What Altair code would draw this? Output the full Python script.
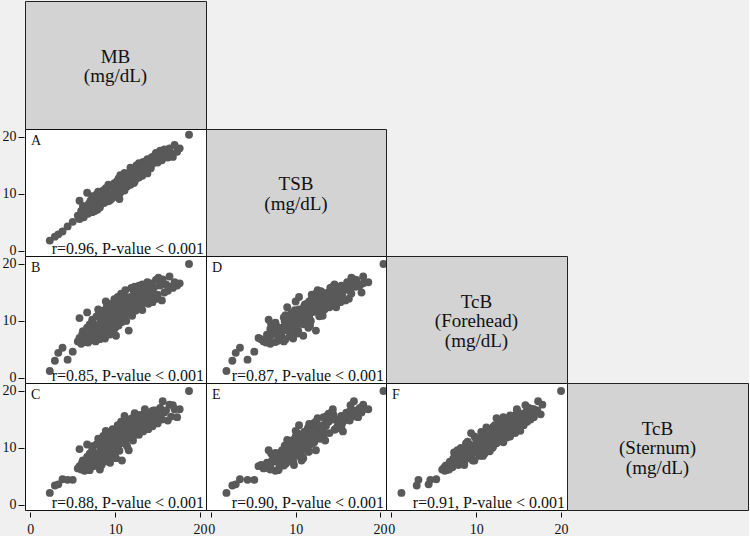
import altair as alt
import pandas as pd

# Subject-level values (mg/dL), estimated from the scatter panels
MB = [5.6, 5.8, 6.0, 6.1, 6.3, 6.4, 6.2, 6.5,
      6.7, 6.8, 6.9, 7.0, 7.1, 7.2, 7.3, 7.4, 7.5, 7.0, 7.3,
      7.6, 7.7, 7.8, 7.9, 8.0, 8.1, 8.2, 8.3, 8.4, 8.5, 7.8, 8.2, 8.0, 8.4,
      8.6, 8.7, 8.8, 8.9, 9.0, 9.1, 9.2, 9.3, 9.4, 9.5, 8.6, 8.9, 9.2, 9.4, 9.0,
      9.6, 9.7, 9.8, 9.9, 10.0, 10.1, 10.2, 10.3, 10.4, 10.5, 9.6, 9.9, 10.2, 10.4, 10.0, 10.3,
      10.6, 10.7, 10.8, 10.9, 11.0, 11.1, 11.2, 11.3, 11.4, 11.5, 10.6, 10.9, 11.1, 11.3, 11.6,
      11.7, 11.8, 11.9, 12.0, 12.1, 12.2, 12.3, 12.4, 12.5, 11.8, 12.0, 12.3, 12.5,
      12.6, 12.7, 12.8, 12.9, 13.0, 13.1, 13.2, 13.3, 13.4, 12.8, 13.2,
      13.6, 13.7, 13.8, 13.9, 14.0, 14.2, 14.3, 14.4, 13.8,
      14.6, 14.8, 15.0, 15.1, 15.3, 15.5, 15.6, 15.8, 14.9, 15.4,
      16.0, 16.2, 16.4, 16.6, 16.8, 17.0, 17.3, 17.6,
      2.3, 2.9, 3.3, 3.8, 4.4, 5.0, 5.8, 6.7, 18.7,
      7.2, 7.6, 8.0, 8.3, 8.5, 8.8, 9.0, 9.3, 9.5, 9.7, 9.8, 10.0, 10.1, 10.3, 10.5,
      10.7, 10.8, 11.0, 11.2, 11.4, 11.6, 11.8, 12.0, 12.2, 12.4, 12.6, 12.8, 13.0, 13.2, 13.5,
      13.8, 14.2, 14.5, 9.2, 8.7, 10.6, 11.4, 7.4, 12.2, 9.6]
TSB = [6.2, 5.6, 7.0, 6.6, 5.9, 7.6, 7.9, 6.9,
       7.4, 6.5, 8.3, 7.1, 8.8, 7.5, 6.8, 8.1, 9.2, 7.9, 9.6,
       7.8, 8.6, 9.9, 7.2, 8.9, 9.5, 8.0, 10.2, 8.6, 9.3, 8.4, 7.6, 10.4, 9.8,
       10.6, 8.4, 9.7, 11.0, 9.0, 10.3, 8.7, 11.3, 9.6, 10.8, 9.0, 10.0, 11.6, 8.9, 10.9,
       9.2, 11.4, 10.2, 11.9, 9.7, 10.9, 12.2, 10.4, 11.7, 9.1, 10.6, 9.5, 11.1, 12.7, 11.5, 9.9,
       11.2, 12.4, 10.7, 12.9, 11.6, 10.6, 12.6, 13.4, 11.3, 12.2, 13.3, 11.0, 13.7, 11.8, 12.4,
       13.0, 11.6, 14.1, 12.5, 13.5, 11.9, 14.4, 12.8, 13.9, 14.6, 13.2, 12.2, 15.0,
       13.3, 14.8, 12.9, 14.2, 15.2, 13.6, 14.6, 15.6, 13.9, 15.4, 13.2,
       15.0, 14.2, 16.1, 14.7, 15.7, 14.5, 16.4, 15.3, 13.6,
       16.0, 17.2, 15.5, 16.6, 17.6, 15.9, 16.9, 17.8, 16.3, 17.0,
       17.4, 16.4, 18.0, 17.1, 16.5, 18.6, 17.4, 18.0,
       1.8, 2.5, 2.9, 3.4, 4.3, 5.1, 8.8, 10.2, 20.4,
       8.2, 7.0, 9.4, 8.8, 10.0, 9.2, 10.2, 9.9, 10.0, 10.7, 11.0, 10.2, 11.6, 11.0, 12.0,
       11.5, 12.2, 12.8, 11.6, 12.9, 13.2, 12.4, 14.0, 13.0, 14.2, 12.8, 14.0, 13.9, 15.0, 14.4,
       15.4, 15.6, 16.6, 9.6, 9.6, 10.2, 12.0, 7.8, 12.6, 10.4]
TCB_F = [6.4, 7.0, 6.0, 7.6, 6.8, 6.3, 8.2, 7.2,
         8.8, 6.2, 7.5, 9.4, 6.8, 8.0, 10.2, 7.0, 8.6, 6.5, 9.8,
         9.0, 6.4, 10.8, 7.6, 8.4, 11.4, 6.8, 9.4, 10.6, 7.3, 8.1, 9.7, 12.0, 7.9,
         11.8, 8.8, 6.9, 10.1, 12.4, 8.3, 9.9, 13.0, 7.6, 11.1, 9.2, 13.4, 10.6, 8.6, 9.4,
         9.6, 12.6, 8.1, 13.8, 10.8, 7.4, 11.6, 14.2, 9.2, 10.0, 11.0, 9.0, 12.9, 13.2, 8.8, 11.9,
         12.2, 14.8, 9.8, 11.0, 13.4, 10.4, 15.4, 12.0, 11.4, 14.0, 13.8, 12.6, 14.4, 10.0, 8.3,
         12.8, 11.2, 15.8, 13.6, 12.2, 14.6, 16.0, 11.8, 13.9, 14.2, 10.9, 12.7, 15.1,
         14.9, 12.4, 13.4, 15.6, 14.4, 12.8, 16.4, 13.6, 15.0, 16.2, 11.9,
         14.2, 15.8, 16.8, 13.0, 15.4, 14.0, 16.6, 13.3, 14.6,
         15.9, 17.2, 14.6, 17.6, 16.2, 13.6, 17.3, 15.0, 13.9, 16.7,
         16.4, 15.3, 17.8, 16.0, 15.8, 16.8, 16.2, 16.6,
         1.2, 3.0, 4.4, 5.3, 3.2, 4.6, 10.5, 11.5, 20.0,
         7.4, 8.6, 9.0, 11.0, 8.8, 10.8, 7.8, 11.6, 9.8, 10.4, 12.0, 9.4, 11.2, 10.6, 12.4,
         11.2, 13.2, 10.8, 12.8, 13.6, 12.2, 14.0, 12.4, 15.2, 13.0, 14.0, 14.6, 13.2, 15.6, 14.8,
         15.2, 16.0, 14.8, 8.2, 9.6, 10.6, 11.6, 7.8, 13.0, 10.2]
TCB_S = [6.4, 6.8, 6.2, 7.4, 7.0, 6.0, 7.8, 6.6,
         8.4, 6.5, 8.0, 9.0, 7.2, 7.6, 9.6, 6.8, 9.2, 6.1, 10.3,
         8.2, 6.9, 10.6, 7.8, 8.9, 11.0, 6.2, 9.9, 9.4, 8.1, 7.3, 9.1, 11.6, 7.0,
         12.1, 9.6, 7.6, 10.9, 11.4, 8.6, 10.4, 12.7, 8.8, 10.2, 8.4, 13.0, 11.8, 7.4, 9.8,
         9.1, 13.3, 9.0, 12.4, 11.4, 8.2, 12.0, 14.0, 10.6, 9.5, 10.4, 11.1, 11.2, 13.8, 9.3, 10.0,
         12.8, 14.6, 7.8, 11.6, 13.1, 10.8, 15.2, 13.7, 10.3, 14.4, 12.2, 12.3, 15.6, 11.4, 9.6,
         12.1, 12.9, 15.0, 14.0, 11.3, 13.5, 16.1, 12.6, 14.6, 13.2, 11.8, 12.9, 14.9,
         15.4, 13.4, 12.3, 15.8, 14.1, 13.9, 15.0, 12.9, 16.0, 15.6, 13.1,
         13.6, 16.2, 15.4, 13.3, 14.8, 15.7, 16.4, 13.8, 14.4,
         16.2, 16.6, 14.3, 15.9, 17.0, 15.0, 18.2, 16.2, 15.3, 16.0,
         16.6, 14.8, 17.6, 15.5, 17.5, 16.8, 15.4, 16.8,
         2.1, 3.4, 3.6, 4.5, 4.4, 4.4, 9.8, 10.6, 20.0,
         9.2, 7.0, 10.6, 9.0, 10.8, 8.6, 9.6, 9.4, 12.0, 8.6, 10.2, 12.6, 9.4, 12.8, 10.8,
         13.6, 11.0, 12.4, 14.2, 11.8, 14.0, 12.0, 15.2, 13.0, 15.0, 13.8, 12.6, 15.4, 14.0, 16.8,
         13.6, 14.6, 16.6, 10.0, 7.8, 11.6, 12.8, 8.6, 12.2, 10.8]

VARS = ["MB", "TSB", "TcB_F", "TcB_S"]
DIAG_LABELS = ["MB\n(mg/dL)", "TSB\n(mg/dL)",
               "TcB\n(Forehead)\n(mg/dL)", "TcB\n(Sternum)\n(mg/dL)"]
PANEL_LETTERS = {(1, 0): "A", (2, 0): "B", (3, 0): "C",
                 (2, 1): "D", (3, 1): "E", (3, 2): "F"}
R_TEXT = {(1, 0): "r=0.96, P-value < 0.001", (2, 0): "r=0.85, P-value < 0.001",
          (3, 0): "r=0.88, P-value < 0.001", (2, 1): "r=0.87, P-value < 0.001",
          (3, 1): "r=0.90, P-value < 0.001", (3, 2): "r=0.91, P-value < 0.001"}
TICKS = [0, 10, 20]

df = pd.DataFrame({"MB": MB, "TSB": TSB, "TcB_F": TCB_F, "TcB_S": TCB_S})

FONT = "Liberation Serif"
COL_W = [181, 180, 181, 181]
ROW_H = [128, 127, 127, 127]
XDOM = [-0.62, 20.7]
YDOM = [-0.9, 21.4]
PT_COLOR = "#595959"
LINE_H = 19.5


def scatter(r, c):
    w, h = COL_W[c], ROW_H[r]
    xaxis = alt.Axis(values=TICKS, domain=False, tickSize=5, offset=2,
                     labelPadding=5, labelFontSize=14, labelFont=FONT,
                     labelColor="#111", tickColor="#111", grid=False, title=None,
                     labelFlush=False, labelOverlap=False) if r == 3 else None
    yaxis = alt.Axis(values=TICKS, domain=False, tickSize=6, offset=1,
                     labelPadding=2, labelFontSize=14, labelFont=FONT,
                     labelColor="#111", tickColor="#111", grid=False, title=None,
                     labelFlush=False, labelOverlap=False) if c == 0 else None
    pts = alt.Chart(df).mark_circle(size=62, color=PT_COLOR, opacity=1, clip=False).encode(
        x=alt.X(VARS[c], type="quantitative",
                scale=alt.Scale(domain=XDOM, nice=False, zero=False), axis=xaxis),
        y=alt.Y(VARS[r], type="quantitative",
                scale=alt.Scale(domain=YDOM, nice=False, zero=False), axis=yaxis),
    )
    letter = alt.Chart(pd.DataFrame({"t": [PANEL_LETTERS[(r, c)]]})).mark_text(
        align="left", baseline="top", fontSize=14, font=FONT, color="#111"
    ).encode(x=alt.value(6), y=alt.value(5), text="t:N")
    ann = alt.Chart(pd.DataFrame({"t": [R_TEXT[(r, c)]]})).mark_text(
        align="right", baseline="alphabetic", fontSize=16, font=FONT, color="#111"
    ).encode(x=alt.value(w - 2), y=alt.value(h - 2), text="t:N")
    return alt.layer(pts, letter, ann).properties(
        width=w, height=h,
        view=alt.ViewBackground(fill="white", stroke="#111", strokeWidth=1))


def diag(i):
    w, h = COL_W[i], ROW_H[i]
    n_lines = DIAG_LABELS[i].count("\n") + 1
    y0 = h / 2 + 1.5 - (n_lines - 1) * LINE_H / 2
    return alt.Chart(pd.DataFrame({"t": [DIAG_LABELS[i]]})).mark_text(
        align="center", baseline="middle", fontSize=19, lineHeight=LINE_H,
        lineBreak="\n", font=FONT, color="#111"
    ).encode(x=alt.value(w / 2), y=alt.value(y0), text="t:N").properties(
        width=w, height=h,
        view=alt.ViewBackground(fill="#d3d3d3", stroke="#222", strokeWidth=1))


def empty(r, c):
    w, h = COL_W[c], ROW_H[r]
    return alt.Chart(pd.DataFrame({"t": [0]})).mark_point(opacity=0, size=1).encode(
        x=alt.value(w / 2), y=alt.value(h / 2)).properties(
        width=w, height=h,
        view=alt.ViewBackground(fill="transparent", stroke="transparent"))


cells = []
for r in range(4):
    for c in range(4):
        if r == c:
            cells.append(diag(r))
        elif r > c:
            cells.append(scatter(r, c))
        else:
            cells.append(empty(r, c))

chart = alt.concat(*cells, columns=4, spacing=0, bounds="flush", align="each").properties(
    padding={"left": 1, "top": 0, "right": 0, "bottom": 0},
    background="#f0f0f0",
).configure_view(stroke="#111")

chart.save("out.html", embed_options={"renderer": "svg", "actions": False})
